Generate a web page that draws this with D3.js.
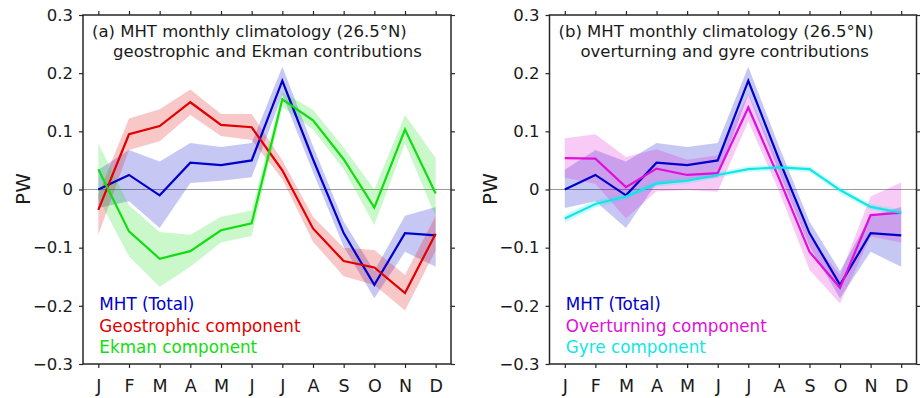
<!DOCTYPE html>
<html>
<head>
<meta charset="utf-8">
<script src="https://cdn.jsdelivr.net/npm/d3@7"></script>
<style>
  body { margin: 0; background: #fff; }
  text { font-family: "DejaVu Sans", sans-serif; fill: #1a1a1a; }
</style>
</head>
<body>
<svg width="920" height="398"></svg>
<script>
  // months on the x axis
  const months = ["J", "F", "M", "A", "M", "J", "J", "A", "S", "O", "N", "D"];
  const yTicks = [-0.3, -0.2, -0.1, 0, 0.1, 0.2, 0.3];

  // MHT total (both panels)
  const mht   = [0.000, 0.025, -0.010, 0.046, 0.042, 0.050, 0.187, 0.052, -0.075, -0.164, -0.075, -0.079];
  const mhtLo = [-0.032, -0.020, -0.066, 0.011, 0.015, 0.021, 0.163, 0.030, -0.098, -0.187, -0.107, -0.133];
  const mhtHi = [0.034, 0.068, 0.048, 0.080, 0.073, 0.080, 0.211, 0.075, -0.055, -0.140, -0.045, -0.030];

  // geostrophic component
  const geo   = [-0.035, 0.095, 0.109, 0.150, 0.111, 0.107, 0.033, -0.067, -0.123, -0.134, -0.178, -0.076];
  const geoLo = [-0.078, 0.068, 0.083, 0.128, 0.092, 0.085, 0.018, -0.090, -0.149, -0.164, -0.208, -0.105];
  const geoHi = [-0.008, 0.122, 0.138, 0.172, 0.130, 0.130, 0.050, -0.047, -0.100, -0.104, -0.147, -0.045];

  // Ekman component
  const ekm   = [0.035, -0.072, -0.119, -0.106, -0.070, -0.058, 0.155, 0.119, 0.052, -0.031, 0.103, -0.007];
  const ekmLo = [-0.015, -0.115, -0.167, -0.133, -0.091, -0.080, 0.142, 0.103, 0.035, -0.061, 0.079, -0.047];
  const ekmHi = [0.079, -0.027, -0.073, -0.078, -0.047, -0.036, 0.168, 0.137, 0.072, 0.000, 0.128, 0.054];

  // overturning component
  const ovt   = [0.054, 0.053, 0.004, 0.036, 0.025, 0.028, 0.141, 0.020, -0.107, -0.169, -0.044, -0.040];
  const ovtLo = [0.020, 0.010, -0.050, -0.003, -0.001, -0.004, 0.117, -0.002, -0.138, -0.196, -0.081, -0.091];
  const ovtHi = [0.088, 0.095, 0.056, 0.069, 0.051, 0.059, 0.165, 0.045, -0.081, -0.147, -0.012, 0.012];

  // gyre component
  const gyr   = [-0.050, -0.025, -0.012, 0.010, 0.015, 0.025, 0.035, 0.038, 0.035, -0.001, -0.030, -0.040];
  const gyrLo = [-0.057, -0.031, -0.018, 0.005, 0.010, 0.020, 0.030, 0.033, 0.030, -0.007, -0.035, -0.045];
  const gyrHi = [-0.043, -0.019, -0.006, 0.015, 0.020, 0.030, 0.040, 0.043, 0.040, 0.005, -0.025, -0.035];

  const svg = d3.select("svg");

  const plotTop = 15, plotBottom = 364;
  const y = d3.scaleLinear().domain([-0.3, 0.3]).range([plotBottom, plotTop]);

  function panel(left, width, title1, title2, series) {
    const x = d3.scaleLinear().domain([0.5, 12.5]).range([left, left + width]);
    const g = svg.append("g");
    const idx = d3.range(12);

    // zero line
    g.append("line")
      .attr("x1", left).attr("x2", left + width)
      .attr("y1", y(0)).attr("y2", y(0))
      .attr("stroke", "#9a9a9a").attr("stroke-width", 1);

    // shaded bands first, then lines
    series.forEach(s => {
      const area = d3.area()
        .x(i => x(i + 1))
        .y0(i => y(s.lo[i]))
        .y1(i => y(s.hi[i]));
      g.append("path").datum(idx)
        .attr("d", area)
        .attr("fill", s.color)
        .attr("fill-opacity", 0.22);
    });
    series.forEach(s => {
      const line = d3.line().x(i => x(i + 1)).y(i => y(s.v[i]));
      g.append("path").datum(idx)
        .attr("d", line)
        .attr("fill", "none")
        .attr("stroke", s.color)
        .attr("stroke-width", 2.2)
        .attr("stroke-linejoin", "miter");
    });

    // axes
    const xt = d3.range(1, 13);
    const ax = g.append("g").attr("transform", `translate(0,${plotBottom})`)
      .call(d3.axisBottom(x).tickValues(xt).tickSize(4).tickSizeOuter(0).tickPadding(12)
        .tickFormat(d => months[d - 1]));
    const axTop = g.append("g").attr("transform", `translate(0,${plotTop})`)
      .call(d3.axisTop(x).tickValues(xt).tickSize(4).tickSizeOuter(0).tickFormat(""));
    const ay = g.append("g").attr("transform", `translate(${left},0)`)
      .call(d3.axisLeft(y).tickValues(yTicks).tickSize(4).tickSizeOuter(0).tickPadding(6)
        .tickFormat(d => d === 0 ? "0" : d3.format(".1f")(d)));
    const ayR = g.append("g").attr("transform", `translate(${left + width},0)`)
      .call(d3.axisRight(y).tickValues(yTicks).tickSize(4).tickSizeOuter(0).tickFormat(""));

    [ax, axTop, ay, ayR].forEach(a => {
      a.select(".domain").remove();
      a.selectAll("line").attr("stroke", "#262626").attr("stroke-width", 1.2);
    });
    ax.selectAll("text").style("font-size", "17.5px").attr("fill", "#1a1a1a")
      .style("font-family", "'DejaVu Sans', sans-serif");
    ay.selectAll("text").style("font-size", "16.5px").attr("fill", "#1a1a1a")
      .style("font-family", "'DejaVu Sans', sans-serif");

    // box
    g.append("rect")
      .attr("x", left).attr("y", plotTop)
      .attr("width", width).attr("height", plotBottom - plotTop)
      .attr("fill", "none").attr("stroke", "#262626").attr("stroke-width", 1.5);

    // title
    g.append("text").attr("x", left + 9).attr("y", 37)
      .style("font-size", "16.5px").text(title1[0]);
    g.append("text").attr("x", left + title2[1]).attr("y", 57)
      .style("font-size", "16.5px").text(title2[0]);

    // legend
    series.forEach((s, k) => {
      g.append("text")
        .attr("x", x(1) + 1).attr("y", 310 + k * 21.5)
        .style("font-size", "16.8px")
        .style("fill", s.color)
        .text(s.name);
    });

    // y label
    g.append("text")
      .attr("transform", `translate(${left - 53},189) rotate(-90)`)
      .attr("text-anchor", "middle")
      .style("font-size", "20px")
      .text("PW");
  }

  panel(83, 368,
    ["(a) MHT monthly climatology (26.5°N)"],
    ["geostrophic and Ekman contributions", 30],
    [
      { name: "MHT (Total)", color: "#0000cc", v: mht, lo: mhtLo, hi: mhtHi },
      { name: "Geostrophic component", color: "#e00000", v: geo, lo: geoLo, hi: geoHi },
      { name: "Ekman component", color: "#11dd11", v: ekm, lo: ekmLo, hi: ekmHi }
    ]);

  panel(549.5, 367,
    ["(b) MHT monthly climatology (26.5°N)"],
    ["overturning and gyre contributions", 31],
    [
      { name: "MHT (Total)", color: "#0000cc", v: mht, lo: mhtLo, hi: mhtHi },
      { name: "Overturning component", color: "#e010d8", v: ovt, lo: ovtLo, hi: ovtHi },
      { name: "Gyre component", color: "#11e6e6", v: gyr, lo: gyrLo, hi: gyrHi }
    ]);
</script>
</body>
</html>
